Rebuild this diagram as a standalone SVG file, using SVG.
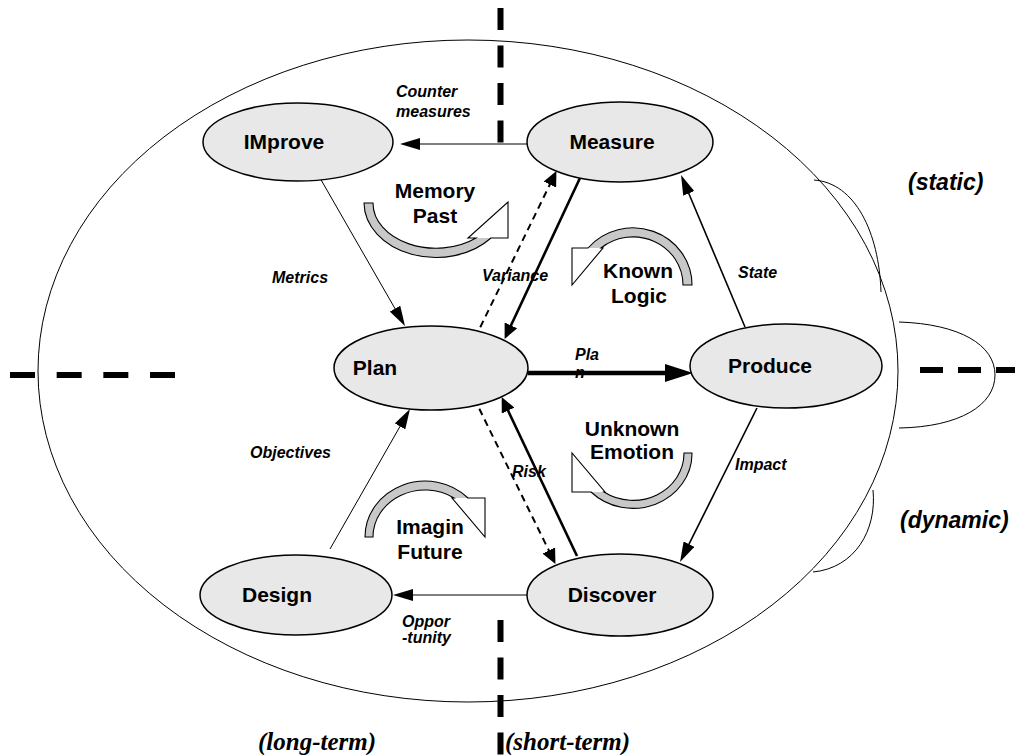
<svg xmlns="http://www.w3.org/2000/svg" width="1015" height="755" viewBox="0 0 1015 755">
<style>
.node{fill:#e8e8e8;stroke:#000;stroke-width:1.5}
.nl{font-family:"Liberation Sans",Arial,sans-serif;font-weight:bold;font-size:21px;text-anchor:middle;fill:#000}
.el{font-family:"Liberation Sans",Arial,sans-serif;font-weight:bold;font-style:italic;font-size:16px;fill:#000}
.big{font-family:"Liberation Sans",Arial,sans-serif;font-weight:bold;font-style:italic;font-size:23px;fill:#000}
.ser{font-family:"Liberation Serif","Times New Roman",serif;font-weight:bold;font-style:italic;font-size:25px;fill:#000}
.thin{stroke:#000;stroke-width:1;fill:none}
.mid{stroke:#000;stroke-width:1.6;fill:none}
.thick{stroke:#000;stroke-width:2.6;fill:none}
.dash{stroke:#000;stroke-width:2;fill:none;stroke-dasharray:7 5}
.axis{stroke:#000;stroke-width:6;fill:none;stroke-dasharray:22 15.5}
.band{fill:#c8c8c8;stroke:none}
.head{fill:#fff;stroke:none}
.outl{fill:none;stroke:#000;stroke-width:1.1;stroke-linejoin:miter}
</style>
<defs>
<marker id="mS" markerUnits="userSpaceOnUse" viewBox="0 0 20 12" markerWidth="20" markerHeight="12" refX="10" refY="6" orient="auto"><path d="M0,0 L20,6 L0,12 Z" fill="#000"/></marker>
<marker id="mM" markerUnits="userSpaceOnUse" viewBox="0 0 15 14" markerWidth="15" markerHeight="14" refX="7" refY="7" orient="auto"><path d="M0,0 L15,7 L0,14 Z" fill="#000"/></marker>
<marker id="mB" markerUnits="userSpaceOnUse" viewBox="0 0 28 18" markerWidth="28" markerHeight="18" refX="14" refY="9" orient="auto"><path d="M0,0 L28,9 L0,18 Z" fill="#000"/></marker>
</defs>
<rect width="1015" height="755" fill="#fff"/>
<ellipse cx="468" cy="371" rx="430" ry="331" fill="none" stroke="#000" stroke-width="1"/>
<path d="M814,180 C855,183 879,232 881,292" class="thin"/>
<path d="M899,322 C960,324 995,345 995,375 C995,405 960,427 899,428" class="thin"/>
<path d="M873,490 C877,530 855,568 813,572" class="thin"/>
<line x1="500.5" y1="8" x2="500.5" y2="143" class="axis"/>
<line x1="500.5" y1="620" x2="500.5" y2="755" class="axis"/>
<line x1="10" y1="375" x2="175" y2="375" class="axis" style="stroke-dasharray:25 21.67"/>
<line x1="920" y1="370" x2="1015" y2="370" class="axis" style="stroke-dasharray:23 15"/>
<g id="connectors">
<line x1="527" y1="144" x2="410" y2="144" class="thin" marker-end="url(#mS)"/>
<line x1="528" y1="595" x2="403" y2="595" class="thin" marker-end="url(#mS)"/>
<line x1="320" y1="178" x2="400" y2="317.3" class="thin" marker-end="url(#mS)"/>
<line x1="330" y1="549" x2="405" y2="417.7" class="thin" marker-end="url(#mS)"/>
<line x1="528" y1="373" x2="679" y2="373" stroke="#000" stroke-width="4.5" marker-end="url(#mB)"/>
<line x1="580" y1="178" x2="508" y2="331.7" class="thick" marker-end="url(#mM)"/>
<line x1="577" y1="556" x2="505.1" y2="404.3" class="thick" marker-end="url(#mM)"/>
<line x1="475" y1="338" x2="552.9" y2="178.3" class="dash" marker-end="url(#mM)"/>
<line x1="474" y1="398" x2="551.9" y2="556.7" class="dash" marker-end="url(#mM)"/>
<line x1="745" y1="327" x2="684.9" y2="184.2" class="mid" marker-end="url(#mS)"/>
<line x1="757" y1="408" x2="684.5" y2="553.1" class="mid" marker-end="url(#mS)"/>
</g>
<g id="improve"><ellipse cx="298" cy="142" rx="95" ry="39" class="node"/><text x="284" y="149" class="nl">IMprove</text></g>
<g id="measure"><ellipse cx="620" cy="142" rx="93" ry="40" class="node"/><text x="612" y="149" class="nl">Measure</text></g>
<g id="plan"><ellipse cx="431" cy="368" rx="97" ry="42" class="node"/><text x="375" y="375" class="nl">Plan</text></g>
<g id="produce"><ellipse cx="786" cy="366" rx="96" ry="42" class="node"/><text x="770" y="373" class="nl">Produce</text></g>
<g id="design"><ellipse cx="296" cy="595" rx="96" ry="40" class="node"/><text x="277" y="602" class="nl">Design</text></g>
<g id="discover"><ellipse cx="620" cy="595" rx="93" ry="41" class="node"/><text x="612" y="602" class="nl">Discover</text></g>
<g id="memory-past">
<path class="band" d="M364,203 L373,203 A63,45 0 0 0 476,238 L491,238 A72,55 0 0 1 364,203 Z"/>
<path class="head" d="M468,238 L508,202 L508,238 Z"/>
<path class="outl" d="M364,203 L373,203 A63,45 0 0 0 476,238 L468,238 L508,202 L508,238 L491,238 A72,55 0 0 1 364,203 Z"/>
<text x="435" y="198" class="nl">Memory</text><text x="435" y="223" class="nl">Past</text>
</g>
<g id="imagin-future">
<path class="band" d="M365,537 L373,537 A52,47 0 0 1 454,498 L468,498 A60,56 0 0 0 365,537 Z"/>
<path class="head" d="M452,498 L485,498 L485,537 Z"/>
<path class="outl" d="M365,537 L373,537 A52,47 0 0 1 454,498 L452,498 L485,537 L485,498 L468,498 A60,56 0 0 0 365,537 Z"/>
<text x="430" y="534" class="nl">Imagin</text><text x="430" y="559" class="nl">Future</text>
</g>
<g id="known-logic">
<path class="band" d="M692,285 L683,285 A50,48 0 0 0 601,248 L588,248 A59,57 0 0 1 692,285 Z"/>
<path class="head" d="M572,248 L603,248 L572,285 Z"/>
<path class="outl" d="M692,285 L683,285 A50,48 0 0 0 601,248 L603,248 L572,285 L572,248 L588,248 A59,57 0 0 1 692,285 Z"/>
<text x="638" y="278" class="nl">Known</text><text x="639" y="303" class="nl">Logic</text>
</g>
<g id="unknown-emotion">
<path class="band" d="M692,453 L684,453 A51,47 0 0 1 604,492 L591,492 A59,55 0 0 0 692,453 Z"/>
<path class="head" d="M572,453 L572,492 L605,492 Z"/>
<path class="outl" d="M692,453 L684,453 A51,47 0 0 1 604,492 L605,492 L572,453 L572,492 L591,492 A59,55 0 0 0 692,453 Z"/>
<text x="632" y="436" class="nl">Unknown</text><text x="632" y="459" class="nl">Emotion</text>
</g>
<text x="396" y="97" class="el">Counter</text>
<text x="396" y="117" class="el">measures</text>
<text x="272" y="283" class="el">Metrics</text>
<text x="482" y="281" class="el">Variance</text>
<text x="738" y="278" class="el">State</text>
<text x="575" y="360" class="el">Pla</text>
<text x="575" y="378" class="el">n</text>
<text x="250" y="458" class="el">Objectives</text>
<text x="512" y="477" class="el">Risk</text>
<text x="735" y="470" class="el">Impact</text>
<text x="402" y="627" class="el">Oppor</text>
<text x="402" y="643" class="el">-tunity</text>
<text x="908" y="190" class="big">(static)</text>
<text x="900" y="528" class="big">(dynamic)</text>
<text x="258" y="750" class="ser">(long-term)</text>
<text x="505" y="750" class="ser">(short-term)</text>
</svg>
